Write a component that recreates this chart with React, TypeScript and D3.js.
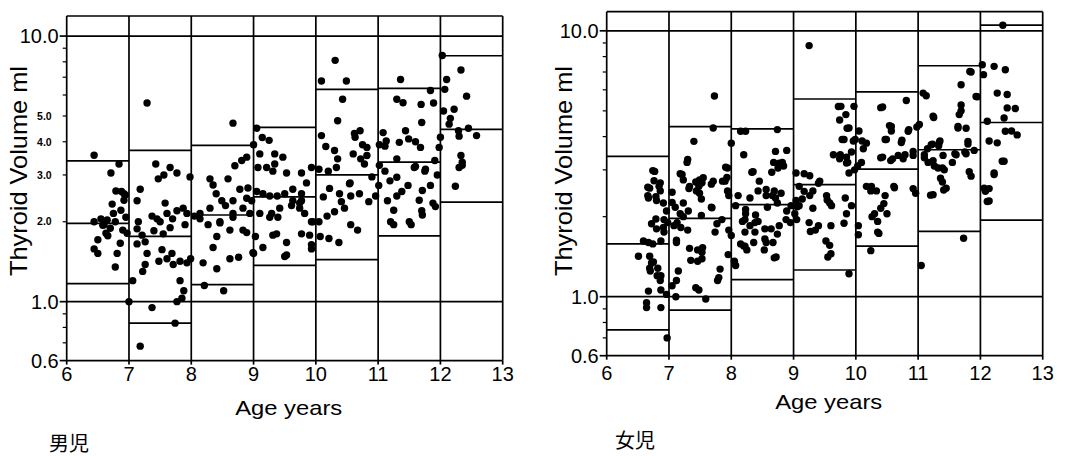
import React, { useEffect, useRef } from "react";
import * as d3 from "d3";

// age bins (years) and the three percentile steps per bin
const ageTicks = [6, 7, 8, 9, 10, 11, 12, 13];
const boysP97 = [3.39, 3.71, 3.88, 4.53, 6.3, 6.35, 8.43];
const boysP50 = [1.97, 1.76, 2.12, 2.48, 3.0, 3.35, 4.45];
const boysP3 = [1.17, 0.83, 1.16, 1.37, 1.44, 1.77, 2.37];
const girlsP97 = [3.37, 4.36, 4.28, 5.54, 5.89, 7.39, 10.5];
const girlsP50 = [1.58, 1.97, 2.22, 2.64, 3.02, 3.57, 4.52];
const girlsP3 = [0.75, 0.89, 1.16, 1.26, 1.55, 1.76, 1.94];

const boysBigTicks = [10, 1, 0.6];
const boysSmallTicks = [5, 4, 3, 2];
const girlsBigTicks = [10, 1, 0.6];
const minorTicks = [0.7, 0.8, 0.9, 2, 3, 4, 5, 6, 7, 8, 9];

// [age, volume ml]
const boysPoints: [number, number][] = [
  [6.44, 3.56], [6.71, 3.05], [6.84, 3.3], [6.79, 2.61], [6.94, 2.52], [6.73, 2.33], [6.95, 2.08],
  [6.44, 2.0], [6.65, 2.03], [6.78, 2.0], [6.5, 1.71], [6.44, 1.58], [6.5, 1.52], [6.63, 1.81],
  [6.66, 1.77], [6.78, 1.35], [6.81, 1.52], [6.86, 1.66], [6.9, 1.86], [6.97, 1.81], [7.0, 1.0],
  [6.58, 1.94], [6.7, 1.89], [6.87, 2.21], [6.92, 2.41], [6.55, 2.05], [6.6, 1.95], [6.88, 2.6],
  [6.75, 2.15], [6.92, 2.55],
  [7.29, 5.6], [7.43, 3.3], [7.47, 2.9], [7.56, 3.0], [7.66, 3.2], [7.77, 3.05], [7.98, 2.95],
  [7.18, 2.65], [7.13, 2.4], [7.58, 2.35], [7.37, 2.1], [7.5, 2.0], [7.61, 2.15], [7.77, 2.2],
  [7.87, 2.25], [7.93, 2.15], [7.15, 2.0], [7.13, 1.88], [7.21, 1.78], [7.13, 1.65], [7.26, 1.68],
  [7.29, 1.52], [7.26, 1.38], [7.22, 1.3], [7.06, 1.2], [7.37, 0.95], [7.48, 1.42], [7.53, 1.57],
  [7.55, 1.8], [7.61, 1.45], [7.69, 1.52], [7.71, 1.38], [7.82, 1.42], [7.93, 1.4], [7.99, 1.45],
  [7.82, 1.2], [7.88, 1.1], [7.85, 1.03], [7.77, 1.0], [7.74, 0.83], [7.18, 0.68], [7.4, 1.85],
  [7.66, 1.9], [7.45, 2.05], [7.7, 2.05], [7.9, 1.95],
  [8.67, 4.7], [8.3, 2.9], [8.35, 2.75], [8.59, 2.9], [8.7, 3.25], [8.81, 3.4], [8.89, 3.5],
  [8.78, 2.65], [8.91, 2.68], [8.97, 2.4], [8.89, 2.45], [8.67, 2.4], [8.49, 2.4], [8.3, 2.25],
  [8.14, 2.15], [8.46, 2.0], [8.67, 2.15], [8.83, 2.25], [8.94, 2.15], [8.19, 1.4], [8.41, 1.33],
  [8.21, 1.15], [8.52, 1.1], [8.62, 1.45], [8.76, 1.47], [8.35, 1.6], [8.41, 1.76], [8.46, 1.98],
  [8.62, 1.86], [8.83, 1.86], [8.89, 1.82], [8.99, 1.53], [8.14, 2.05], [8.27, 1.95], [8.67, 2.08],
  [8.05, 2.1], [8.55, 2.3], [8.4, 2.55],
  [9.05, 4.5], [9.14, 4.15], [9.25, 4.05], [9.0, 3.9], [9.1, 3.6], [9.34, 3.6], [9.47, 3.5],
  [9.34, 3.3], [9.07, 3.2], [9.21, 3.2], [9.31, 3.1], [9.53, 3.05], [9.77, 3.05], [9.93, 3.2],
  [9.05, 2.6], [9.15, 2.55], [9.26, 2.5], [9.38, 2.5], [9.5, 2.55], [9.63, 2.65], [9.77, 2.55],
  [9.85, 2.8], [9.77, 2.4], [9.63, 2.4], [9.42, 2.25], [9.29, 2.15], [9.1, 2.15], [9.26, 2.08],
  [9.39, 2.08], [9.74, 2.25], [9.93, 2.0], [9.15, 1.6], [9.31, 1.78], [9.37, 1.8], [9.53, 1.67],
  [9.53, 1.5], [9.5, 1.48], [9.77, 1.8], [9.9, 1.78], [9.93, 1.64], [9.93, 1.58], [9.0, 1.52],
  [9.03, 1.76], [9.74, 2.35], [9.82, 2.15], [9.95, 2.0], [9.61, 2.3],
  [10.31, 8.1], [10.09, 6.77], [10.49, 6.77], [10.43, 5.78], [10.35, 4.8], [10.09, 4.22],
  [10.16, 3.84], [10.3, 3.71], [10.35, 3.45], [10.71, 4.4], [10.63, 4.16], [10.82, 3.81],
  [10.82, 3.55], [10.05, 3.15], [10.2, 3.1], [10.33, 3.2], [10.55, 2.8], [10.22, 2.67],
  [10.12, 2.48], [10.38, 2.55], [10.41, 2.38], [10.54, 2.78], [10.56, 2.5], [10.3, 2.18],
  [10.46, 2.25], [10.56, 1.95], [10.67, 1.86], [10.21, 1.73], [10.37, 1.67], [10.07, 1.76],
  [10.85, 2.38], [10.96, 2.5], [10.05, 2.0], [10.18, 2.1], [10.7, 2.55], [10.9, 2.95],
  [10.75, 3.9], [10.6, 3.6], [10.62, 4.3], [10.78, 3.3], [10.72, 3.45],
  [11.08, 4.33], [11.13, 4.03], [11.02, 3.9], [11.11, 3.85], [11.34, 3.98], [11.44, 4.4],
  [11.49, 4.1], [11.6, 4.0], [11.68, 3.81], [11.7, 4.73], [11.36, 6.86], [11.3, 5.78],
  [11.4, 5.61], [11.69, 5.53], [11.84, 6.24], [11.89, 5.6], [11.3, 3.45], [11.02, 3.26],
  [11.6, 3.23], [11.91, 3.4], [11.75, 3.1], [11.3, 2.94], [11.19, 2.85], [11.48, 2.74],
  [11.84, 2.74], [11.71, 2.62], [11.38, 2.6], [11.3, 2.5], [11.66, 2.41], [11.92, 2.28],
  [11.25, 2.21], [11.71, 2.12], [11.25, 1.95], [11.53, 1.95], [11.58, 3.2], [11.76, 3.15],
  [11.01, 2.74], [11.11, 3.1], [11.2, 2.0], [11.5, 2.0], [11.7, 2.2], [11.88, 2.35],
  [11.15, 2.4], [11.95, 3.0],
  [12.03, 8.45], [12.33, 7.45], [12.1, 6.86], [12.42, 5.94], [12.07, 6.3], [12.05, 5.22],
  [12.22, 5.3], [12.14, 4.66], [12.29, 4.4], [12.0, 4.16], [12.3, 4.2], [12.58, 4.22],
  [11.98, 3.81], [12.33, 3.55], [12.35, 3.35], [12.3, 3.2], [12.35, 3.26], [12.24, 2.72],
  [12.16, 4.9], [12.45, 4.5],
];

const girlsPoints: [number, number][] = [
  [6.74, 2.98], [6.76, 2.73], [6.84, 2.6], [6.66, 2.58], [6.86, 2.5], [6.66, 2.4], [6.79, 2.38],
  [6.77, 2.96], [6.86, 2.68], [6.69, 2.56], [6.67, 2.35], [6.8, 2.3], [6.91, 2.25], [6.79, 1.96],
  [6.92, 1.95], [6.59, 1.62], [6.67, 1.6], [6.74, 1.58], [6.87, 1.62], [6.92, 1.75], [6.8, 1.8],
  [6.72, 1.88], [6.51, 1.42], [6.69, 1.42], [6.72, 1.34], [6.69, 1.28], [6.82, 1.28], [6.87, 1.2],
  [6.67, 1.05], [6.87, 1.06], [6.64, 0.95], [6.64, 0.91], [6.87, 0.91], [6.97, 0.7], [6.96, 1.02],
  [6.75, 1.35], [6.7, 1.25], [6.81, 1.2], [6.86, 1.15], [6.91, 1.82], [6.96, 2.1], [6.98, 1.9],
  [7.73, 5.69], [7.4, 3.84], [7.3, 3.28], [7.71, 4.31], [7.05, 2.47], [7.18, 2.9], [7.23, 2.75],
  [7.33, 2.6], [7.44, 2.5], [7.49, 2.75], [7.55, 2.8], [7.68, 2.65], [7.49, 2.45], [7.52, 2.33],
  [7.68, 2.17], [7.86, 2.72], [7.94, 2.5], [7.96, 2.4], [7.05, 2.26], [7.1, 2.17], [7.23, 2.25],
  [7.31, 2.1], [7.18, 2.05], [7.52, 2.02], [7.21, 2.88], [7.43, 2.7], [7.53, 2.68], [7.32, 2.55],
  [7.48, 2.6], [7.69, 2.16], [7.94, 3.05], [7.71, 2.72], [7.9, 2.72], [7.29, 3.2], [7.91, 3.07],
  [7.93, 2.81], [7.05, 1.1], [7.11, 1.0], [7.12, 1.15], [7.15, 1.25], [7.12, 1.63], [7.12, 1.6],
  [7.08, 1.85], [7.19, 1.82], [7.3, 1.78], [7.35, 1.37], [7.46, 1.36], [7.53, 1.39], [7.53, 1.47],
  [7.43, 1.08], [7.48, 1.06], [7.59, 0.98], [7.78, 1.15], [7.8, 1.18], [7.82, 1.27], [7.74, 1.75],
  [7.85, 1.95], [7.96, 1.78], [7.33, 1.52], [7.46, 1.5], [7.54, 1.53], [7.13, 1.9], [7.23, 2.0],
  [7.77, 1.88], [7.95, 1.44],
  [8.15, 4.19], [8.23, 4.19], [8.74, 4.25], [8.0, 3.78], [8.2, 3.42], [8.71, 3.52], [8.89, 3.55],
  [8.77, 3.18], [8.84, 3.1], [8.33, 2.94], [8.45, 2.72], [8.56, 2.53], [8.66, 2.4], [8.8, 2.45],
  [8.96, 2.2], [8.07, 2.2], [8.23, 2.13], [8.68, 3.2], [8.75, 3.05], [8.82, 3.2], [8.65, 2.94],
  [8.35, 2.95], [8.11, 2.4], [8.43, 2.5], [8.56, 2.4], [8.69, 2.5], [8.71, 2.35], [8.58, 2.17],
  [8.74, 2.25], [8.89, 2.1], [8.23, 2.05], [8.39, 2.03], [8.18, 1.92], [8.43, 1.92], [8.05, 1.36],
  [8.22, 1.95], [8.3, 1.85], [8.38, 1.9], [8.22, 1.75], [8.38, 1.75], [8.54, 1.8], [8.64, 1.8],
  [8.54, 1.65], [8.77, 1.85], [8.74, 1.72], [8.69, 1.4], [8.95, 1.9], [8.15, 1.58], [8.22, 1.55],
  [8.53, 1.5], [8.72, 1.41], [8.07, 1.31], [8.2, 1.55], [8.25, 1.5], [8.36, 1.6], [8.56, 1.6],
  [8.67, 1.6], [8.88, 1.95], [8.0, 1.7], [8.3, 2.35],
  [9.25, 8.8], [9.04, 2.92], [9.17, 2.9], [9.26, 2.85], [9.09, 2.6], [9.31, 2.5], [9.17, 2.49],
  [9.26, 2.4], [9.42, 2.72], [9.53, 2.4], [9.61, 2.2], [9.85, 2.05], [9.64, 3.42], [9.74, 3.3],
  [9.85, 3.18], [9.76, 5.2], [9.97, 5.2], [9.84, 4.84], [9.89, 4.31], [9.81, 3.9], [9.99, 3.9],
  [9.89, 2.92], [9.72, 5.19], [9.74, 4.62], [9.86, 4.3], [9.78, 3.9], [9.96, 3.85], [9.75, 3.42],
  [9.85, 3.35], [9.87, 3.2], [9.93, 3.5], [9.98, 3.0], [9.4, 2.67], [9.54, 2.31], [9.58, 2.25],
  [9.83, 2.35], [9.93, 2.2], [9.81, 1.89], [9.6, 1.85], [9.4, 1.85], [9.58, 1.56], [9.55, 1.41],
  [9.89, 1.22], [9.35, 1.78], [9.27, 1.76], [9.52, 1.62], [9.04, 2.3], [9.09, 2.2], [9.14, 2.33],
  [9.06, 2.18], [9.31, 2.15], [9.02, 2.05], [9.05, 1.95], [9.25, 1.9], [9.6, 1.45],
  [10.17, 3.78], [10.43, 5.17], [10.81, 5.47], [10.57, 4.37], [10.49, 3.9], [10.74, 3.88],
  [10.84, 4.19], [10.79, 3.42], [10.59, 3.3], [10.43, 3.35], [10.92, 3.52], [10.09, 3.2],
  [10.25, 2.6], [10.33, 2.5], [10.62, 2.57], [10.47, 2.4], [10.96, 2.45], [10.4, 5.14],
  [10.54, 4.4], [10.57, 4.2], [10.85, 4.25], [10.98, 4.35], [10.05, 4.2], [10.1, 3.85],
  [10.47, 3.9], [10.73, 3.8], [10.03, 3.1], [10.04, 1.71], [10.35, 1.75], [10.24, 1.49],
  [10.04, 1.85], [10.17, 2.6], [10.24, 2.5], [10.61, 2.6], [10.92, 2.55], [10.45, 2.24],
  [10.4, 2.15], [10.5, 2.05], [10.3, 2.05], [10.35, 1.92], [10.37, 1.73], [10.4, 3.33],
  [10.56, 3.25], [10.68, 3.4], [10.76, 3.3], [10.12, 3.6], [10.92, 3.4], [10.26, 2.0],
  [11.08, 5.83], [11.13, 5.7], [11.24, 4.77], [11.02, 4.44], [11.21, 3.73], [11.34, 3.8],
  [11.1, 3.42], [11.24, 3.25], [11.32, 3.05], [11.42, 3.0], [11.45, 2.56], [11.24, 2.42],
  [11.4, 3.4], [11.61, 3.42], [11.77, 3.45], [11.85, 2.84], [11.8, 3.75], [11.64, 4.31],
  [11.66, 4.84], [11.69, 5.0], [11.69, 6.27], [11.77, 4.3], [11.93, 5.66], [11.83, 7.03],
  [11.85, 7.0], [11.95, 5.65], [11.69, 5.26], [11.64, 4.37], [11.25, 4.72], [11.8, 3.84],
  [11.35, 3.85], [11.23, 3.75], [11.05, 1.31], [11.73, 1.66], [11.1, 3.33], [11.16, 3.2],
  [11.26, 3.1], [11.39, 3.05], [11.36, 2.79], [11.39, 2.7], [11.41, 2.52], [11.2, 2.41],
  [11.59, 3.45], [11.75, 3.5], [11.82, 2.95], [11.15, 3.6], [11.33, 3.7], [11.55, 3.2],
  [11.9, 3.55],
  [12.36, 10.5], [12.03, 7.45], [12.05, 6.84], [12.22, 7.35], [12.4, 7.14], [12.27, 5.83],
  [12.43, 5.76], [12.11, 4.57], [12.38, 4.7], [12.43, 5.13], [12.56, 5.1], [12.59, 4.06],
  [12.4, 4.19], [12.27, 3.79], [12.14, 3.85], [12.38, 3.23], [12.22, 2.92], [12.08, 2.49],
  [12.14, 2.55], [12.14, 2.29], [12.06, 2.56], [12.22, 2.88], [12.35, 3.23], [12.11, 2.28],
  [12.5, 4.2],
];

const FONT = "'Liberation Sans', Arial, sans-serif";

type Panel = {
  x0: number; x1: number; yTop: number; yBot: number; yMax: number;
  points: [number, number][];
  p97: number[]; p50: number[]; p3: number[];
  bigTicks: number[]; smallTicks: number[];
  titleX: number; ageY: number; tickY: number;
  label: string; labelX: number; labelY: number;
};

function drawPanel(svg: any, p: Panel) {
  const x = d3.scaleLinear().domain([6, 13]).range([p.x0, p.x1]);
  const y = d3.scaleLog().domain([0.6, p.yMax]).range([p.yBot, p.yTop]);
  const g = svg.append("g");
  const sw = 1.7;

  // vertical year lines (incl. frame sides)
  g.append("g").selectAll("line").data(ageTicks).enter().append("line")
    .attr("x1", (d: number) => x(d)).attr("x2", (d: number) => x(d))
    .attr("y1", y(p.yMax)).attr("y2", y(0.6))
    .attr("stroke", "#000").attr("stroke-width", sw);

  // full-width horizontal lines
  g.append("g").selectAll("line").data([p.yMax, 10, 1, 0.6]).enter().append("line")
    .attr("x1", x(6)).attr("x2", x(13))
    .attr("y1", (d: number) => y(d)).attr("y2", (d: number) => y(d))
    .attr("stroke", "#000").attr("stroke-width", sw);

  // percentile steps per age bin
  [p.p97, p.p50, p.p3].forEach((arr) => {
    g.append("g").selectAll("line").data(arr).enter().append("line")
      .attr("x1", (_: number, i: number) => x(6 + i))
      .attr("x2", (_: number, i: number) => x(7 + i))
      .attr("y1", (d: number) => y(d)).attr("y2", (d: number) => y(d))
      .attr("stroke", "#000").attr("stroke-width", sw);
  });

  // points
  g.append("g").selectAll("circle").data(p.points).enter().append("circle")
    .attr("cx", (d: [number, number]) => x(d[0]))
    .attr("cy", (d: [number, number]) => y(d[1]))
    .attr("r", 3.7).attr("fill", "#000");

  // y ticks
  g.append("g").selectAll("line").data(minorTicks).enter().append("line")
    .attr("x1", x(6) - 4).attr("x2", x(6))
    .attr("y1", (d: number) => y(d)).attr("y2", (d: number) => y(d))
    .attr("stroke", "#000").attr("stroke-width", 1.2);
  g.append("g").selectAll("line").data(p.bigTicks).enter().append("line")
    .attr("x1", x(6) - 7).attr("x2", x(6))
    .attr("y1", (d: number) => y(d)).attr("y2", (d: number) => y(d))
    .attr("stroke", "#000").attr("stroke-width", sw);
  g.append("g").selectAll("text").data(p.bigTicks).enter().append("text")
    .attr("x", x(6) - 8).attr("y", (d: number) => y(d))
    .attr("dy", "0.36em").attr("text-anchor", "end")
    .attr("font-family", FONT).attr("font-size", 20)
    .text((d: number) => d.toFixed(1));
  g.append("g").selectAll("text").data(p.smallTicks).enter().append("text")
    .attr("x", x(6) - 15).attr("y", (d: number) => y(d))
    .attr("dy", "0.36em").attr("text-anchor", "end")
    .attr("font-family", FONT).attr("font-size", 10.5).attr("font-weight", "bold")
    .text((d: number) => d.toFixed(1));

  // x ticks
  g.append("g").selectAll("line").data(ageTicks).enter().append("line")
    .attr("x1", (d: number) => x(d)).attr("x2", (d: number) => x(d))
    .attr("y1", y(0.6)).attr("y2", y(0.6) + 4)
    .attr("stroke", "#000").attr("stroke-width", sw);
  g.append("g").selectAll("text").data(ageTicks).enter().append("text")
    .attr("x", (d: number) => x(d)).attr("y", p.tickY)
    .attr("text-anchor", "middle")
    .attr("font-family", FONT).attr("font-size", 20)
    .text((d: number) => d);

  // axis titles
  g.append("text")
    .attr("x", (p.x0 + p.x1) / 2 + 4).attr("y", p.ageY)
    .attr("text-anchor", "middle").attr("font-family", FONT).attr("font-size", 21)
    .attr("textLength", 107).attr("lengthAdjust", "spacingAndGlyphs")
    .text("Age years");
  g.append("text")
    .attr("transform", `translate(${p.titleX},171) rotate(-90)`)
    .attr("text-anchor", "middle").attr("font-family", FONT).attr("font-size", 24)
    .attr("textLength", 210).attr("lengthAdjust", "spacingAndGlyphs")
    .text("Thyroid Volume ml");

  g.append("text")
    .attr("x", p.labelX).attr("y", p.labelY)
    .attr("font-family", "'Noto Sans CJK JP', sans-serif").attr("font-size", 20)
    .text(p.label);
}

const App = () => {
  const ref = useRef<SVGSVGElement>(null);

  useEffect(() => {
    const svg = d3.select(ref.current);
    svg.selectAll("*").remove();

    drawPanel(svg, {
      x0: 66.7, x1: 502.7, yTop: 16, yBot: 360.6, yMax: 11.9,
      points: boysPoints, p97: boysP97, p50: boysP50, p3: boysP3,
      bigTicks: boysBigTicks, smallTicks: boysSmallTicks,
      titleX: 27, ageY: 415, tickY: 381,
      label: "男児", labelX: 49, labelY: 451,
    });
    drawPanel(svg, {
      x0: 606.7, x1: 1042.7, yTop: 11.7, yBot: 355.7, yMax: 11.8,
      points: girlsPoints, p97: girlsP97, p50: girlsP50, p3: girlsP3,
      bigTicks: girlsBigTicks, smallTicks: [],
      titleX: 572, ageY: 409, tickY: 380,
      label: "女児", labelX: 615, labelY: 448,
    });
  }, []);

  return (
    <svg
      ref={ref}
      width={1079}
      height={456}
      style={{ position: "absolute", left: 0, top: 0, background: "#fff" }}
    ></svg>
  );
};

export default App;
